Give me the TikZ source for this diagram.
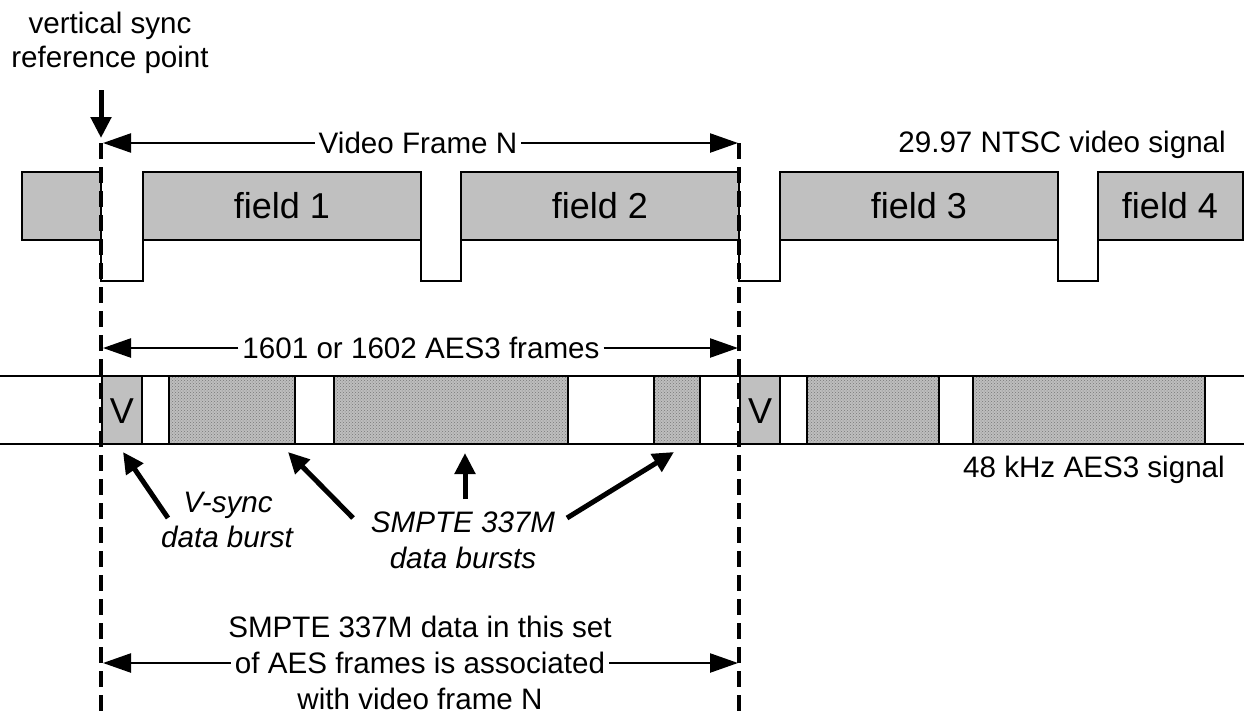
\documentclass[tikz,border=0pt]{standalone}
\usepackage{fontspec}
\setmainfont{Liberation Sans}
\usetikzlibrary{arrows.meta,patterns}
\definecolor{fieldgray}{RGB}{192,192,192}
\definecolor{burstbg}{RGB}{190,190,190}
\definecolor{burstdot}{RGB}{120,120,120}
\begin{document}
\begin{tikzpicture}[x=1pt,y=-1pt,
  sig/.style={line width=2.4pt, line join=miter, line cap=rect},
  fieldbox/.style={sig, draw, fill=fieldgray},
  vbox/.style={sig, draw, fill=fieldgray},
  burst/.style={sig, draw, preaction={fill=burstbg}, pattern=crosshatch dots, pattern color=burstdot},
  refline/.style={line width=3.6pt, dash pattern=on 16pt off 8pt},
  dim/.style={line width=2.4pt, -{Triangle[length=28pt,width=19pt]}},
  pointer/.style={line width=5pt, -{Triangle[length=21pt,width=20pt]}},
  lbl/.style={font=\fontsize{29.6pt}{35pt}\selectfont, inner sep=0pt},
  ilbl/.style={font=\fontsize{29.6pt}{35pt}\selectfont\itshape, inner sep=0pt},
  big/.style={font=\fontsize{36pt}{42pt}\selectfont, inner sep=0pt},
  gap/.style={lbl, fill=white, inner xsep=4pt, inner ysep=1pt}
]
\useasboundingbox (0,0) rectangle (1244,715);

% ---------- video signal ----------
\draw[fieldbox] (22,172) rectangle (101,240);
\draw[fieldbox] (143,172) rectangle (421,240);
\draw[fieldbox] (461,172) rectangle (739,240);
\draw[fieldbox] (780,172) rectangle (1058,240);
\draw[fieldbox] (1098,172) rectangle (1243,240);
\draw[sig] (101,240) -- (101,281) -- (143,281) -- (143,240);
\draw[sig] (421,240) -- (421,281) -- (461,281) -- (461,240);
\draw[sig] (739,240) -- (739,281) -- (780,281) -- (780,240);
\draw[sig] (1058,240) -- (1058,281) -- (1098,281) -- (1098,240);
\node[big] (f1) at (282,206) {field 1};
\node[big] (f2) at (600,206) {field 2};
\node[big] (f3) at (919,206) {field 3};
\node[big] (f4) at (1170,206) {field 4};

% ---------- AES3 signal ----------
\draw[sig] (0,376) -- (1244,376);
\draw[sig] (0,444) -- (1244,444);
\draw[vbox] (102,376) rectangle (142,444);
\draw[burst] (169,376) rectangle (295,444);
\draw[burst] (334,376) rectangle (568,444);
\draw[burst] (654,376) rectangle (700,444);
\draw[vbox] (740,376) rectangle (780,444);
\draw[burst] (807,376) rectangle (939,444);
\draw[burst] (973,376) rectangle (1205,444);
\node[big] (v1) at (122,411) {V};
\node[big] (v2) at (760,411) {V};

% ---------- reference lines ----------
\coordinate (LT) at (101,143);
\coordinate (LB) at (101,715);
\coordinate (RT) at (739,143);
\coordinate (RB) at (739,715);
\draw[refline] (LT) -- (LB);
\draw[refline] (RT) -- (RB);

% ---------- vertical sync reference ----------
\node[lbl, anchor=base] (vs1) at (110,33) {vertical sync};
\node[lbl, anchor=base] (vs2) at (110,67) {reference point};
\coordinate (vsTail) at (101,90);
\coordinate (vsTip) at (101,138);
\draw[pointer] (vsTail) -- (vsTip);

% ---------- dimension arrows ----------
\node[gap] (vfn) at (418,143) {Video Frame N};
\coordinate (vfL) at (103,143);
\coordinate (vfR) at (738,143);
\draw[dim] (vfn.west) -- (vfL);
\draw[dim] (vfn.east) -- (vfR);

\node[gap] (aes) at (421,348) {1601 or 1602 AES3 frames};
\coordinate (aesL) at (103,348);
\coordinate (aesR) at (738,348);
\draw[dim] (aes.west) -- (aesL);
\draw[dim] (aes.east) -- (aesR);

\node[lbl, anchor=base] (b1) at (420,637) {SMPTE 337M data in this set};
\node[gap] (b2) at (420,663) {of AES frames is associated};
\node[lbl, anchor=base] (b3) at (420,709) {with video frame N};
\coordinate (bL) at (103,663);
\coordinate (bR) at (738,663);
\draw[dim] (b2.west) -- (bL);
\draw[dim] (b2.east) -- (bR);

% ---------- signal names ----------
\node[lbl, anchor=base east] (ntsc) at (1226,152) {29.97 NTSC video signal};
\node[lbl, anchor=base east] (aessig) at (1225,477) {48 kHz AES3 signal};

% ---------- burst labels ----------
\node[ilbl, anchor=base] (vsy1) at (228,512) {V-sync};
\node[ilbl, anchor=base] (vsy2) at (227,547) {data burst};
\node[ilbl, anchor=base] (sm1) at (463,532) {SMPTE 337M};
\node[ilbl, anchor=base] (sm2) at (463,568) {data bursts};

\coordinate (pA0) at (168,518);
\coordinate (pA1) at (123,452);
\coordinate (pB0) at (353,518);
\coordinate (pB1) at (288,452);
\coordinate (pC0) at (465,499);
\coordinate (pC1) at (465,453);
\coordinate (pD0) at (567,518);
\coordinate (pD1) at (674,452);
\draw[pointer] (pA0) -- (pA1);
\draw[pointer] (pB0) -- (pB1);
\draw[pointer] (pC0) -- (pC1);
\draw[pointer] (pD0) -- (pD1);
\end{tikzpicture}
\end{document}
